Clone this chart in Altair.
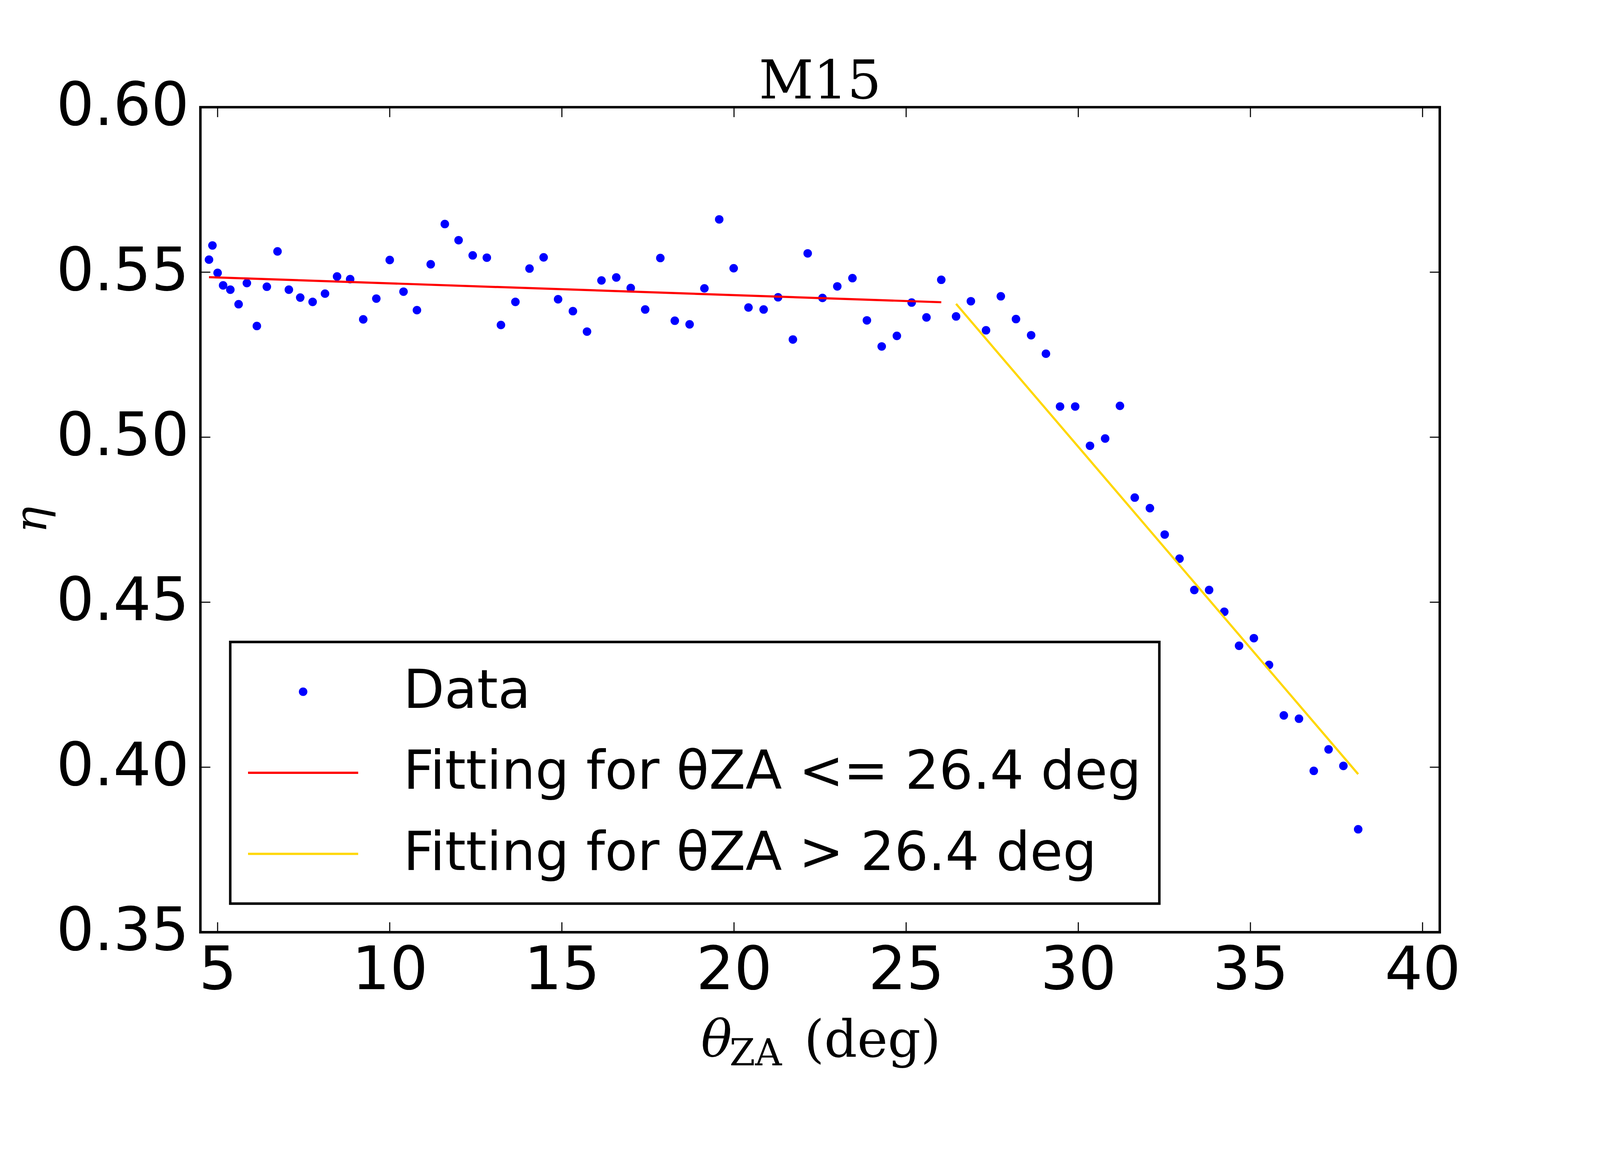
import altair as alt
import pandas as pd

# ---- data ----
theta_za = [4.75, 4.85, 5.00, 5.16, 5.37, 5.61, 5.85, 6.14, 6.43, 6.74,
            7.07, 7.40, 7.76, 8.12, 8.47, 8.85, 9.23, 9.61, 10.00, 10.40,
            10.79, 11.19, 11.60, 12.00, 12.41, 12.82, 13.23, 13.65, 14.06, 14.47,
            14.89, 15.32, 15.73, 16.15, 16.58, 17.00, 17.42, 17.86, 18.28, 18.71,
            19.14, 19.57, 19.99, 20.42, 20.86, 21.28, 21.71, 22.14, 22.57, 23.00,
            23.44, 23.86, 24.29, 24.73, 25.16, 25.59, 26.02, 26.45, 26.88, 27.32,
            27.75, 28.19, 28.63, 29.06, 29.47, 29.91, 30.34, 30.78, 31.21, 31.64,
            32.08, 32.51, 32.94, 33.37, 33.80, 34.24, 34.67, 35.10, 35.54, 35.97,
            36.41, 36.84, 37.27, 37.70, 38.13]
eta = [0.5538, 0.5581, 0.5498, 0.5460, 0.5447, 0.5403, 0.5467, 0.5337, 0.5456, 0.5563,
       0.5447, 0.5423, 0.5410, 0.5435, 0.5487, 0.5479, 0.5357, 0.5420, 0.5537, 0.5441,
       0.5385, 0.5524, 0.5646, 0.5597, 0.5551, 0.5544, 0.5340, 0.5410, 0.5511, 0.5545,
       0.5418, 0.5382, 0.5320, 0.5475, 0.5484, 0.5452, 0.5387, 0.5543, 0.5353, 0.5342,
       0.5451, 0.5660, 0.5512, 0.5393, 0.5387, 0.5424, 0.5296, 0.5557, 0.5422, 0.5457,
       0.5482, 0.5354, 0.5275, 0.5307, 0.5408, 0.5363, 0.5477, 0.5366, 0.5412, 0.5324,
       0.5427, 0.5358, 0.5309, 0.5253, 0.5093, 0.5093, 0.4974, 0.4996, 0.5095, 0.4817,
       0.4785, 0.4705, 0.4632, 0.4537, 0.4537, 0.4471, 0.4368, 0.4391, 0.4310, 0.4157,
       0.4147, 0.3989, 0.4054, 0.4004, 0.3812]

fit_low_x = [4.75, 26.02]
fit_low_y = [0.5485, 0.5409]
fit_high_x = [26.45, 38.13]
fit_high_y = [0.5404, 0.3979]

x_ticks = [5, 10, 15, 20, 25, 30, 35, 40]
y_ticks = [0.35, 0.40, 0.45, 0.50, 0.55, 0.60]
x_domain = [4.5, 40.5]
y_domain = [0.35, 0.60]

chart_title = "M15"
x_title_parts = ["θ", "ZA", "(deg)"]
y_title = "η"
legend_labels = ["Data", "Fitting for θZA <= 26.4 deg", "Fitting for θZA > 26.4 deg"]
series_colors = ["#0000ff", "#ff0000", "#ffd700"]

# ---- layout / style ----
W, H = 3487, 2321
PAD_L, PAD_T, PAD_R, PAD_B = 555, 145, 442, 518   # room around the plot area
TICK_LEN = 28
circle_path = "M-0.0774,0A0.0774,0.0774,0,1,1,0.0774,0A0.0774,0.0774,0,1,1,-0.0774,0Z"
line_path = "M-1,-0.02H1V0.02H-1Z"

points_df = pd.DataFrame({"x": theta_za, "y": eta})
low_df = pd.DataFrame({"x": fit_low_x, "y": fit_low_y})
high_df = pd.DataFrame({"x": fit_high_x, "y": fit_high_y})
xt_df = pd.DataFrame({"x": x_ticks})
yt_df = pd.DataFrame({"y": y_ticks})
leg_df = pd.DataFrame({"series": legend_labels})
one_df = pd.DataFrame({"k": [0]})


def xs():
    return alt.Scale(domain=x_domain, nice=False, zero=False)


def ys():
    return alt.Scale(domain=y_domain, nice=False, zero=False)


def x_axis():
    return alt.Axis(values=x_ticks, format="d", labelFont="DejaVu Sans", labelFontSize=168,
                    labelColor="black", labelPadding=27, labelLimit=2000, ticks=False,
                    tickSize=0, domain=False, grid=False, labelFlush=False, labelOverlap=False,
                    title=None)


def y_axis():
    return alt.Axis(values=y_ticks, format=".2f", labelFont="DejaVu Sans", labelFontSize=168,
                    labelColor="black", labelPadding=32, labelLimit=2000, ticks=False,
                    tickSize=0, domain=False, grid=False, labelFlush=False, labelOverlap=False,
                    title=y_title, titleFont="DejaVu Serif", titleFontSize=125,
                    titleFontStyle="italic", titleFontWeight="normal", titleColor="black",
                    titleAngle=270, titleX=-435, titleY=H / 2,
                    titleBaseline="alphabetic", titleAlign="center")


def X(field="x"):
    return alt.X(f"{field}:Q", scale=xs(), axis=x_axis())


def Y(field="y"):
    return alt.Y(f"{field}:Q", scale=ys(), axis=y_axis())


def text_layer(txt, x, y, size, style="normal", align="left", font="DejaVu Serif"):
    return alt.Chart(one_df).mark_text(
        text=txt, font=font, fontSize=size, fontStyle=style, color="black",
        align=align, baseline="alphabetic").encode(x=alt.value(x), y=alt.value(y))


def build(use_config_sw, encode_mode):
    leg_kw = dict(orient="none", legendX=84, legendY=1504.5, title=None,
                  symbolSize=96100, clipHeight=180, rowPadding=48, padding=50,
                  labelOffset=127, labelFont="DejaVu Sans", labelFontSize=150,
                  labelColor="black", labelLimit=4000, strokeColor="black",
                  fillColor="white", symbolStrokeWidth=0, symbolOpacity=1, symbolOffset=0)
    if encode_mode == "update":
        leg_kw["encode"] = {"legend": {"update": {"strokeWidth": {"value": 7}}}}
    elif encode_mode == "flat":
        leg_kw["encode"] = {"legend": {"strokeWidth": {"value": 7}}}
    leg = alt.Legend(**leg_kw)

    # invisible rule whose extent fixes the drawing surface around the plot area
    frame = alt.Chart(one_df).mark_rule(opacity=0, color="white").encode(
        x=alt.value(-PAD_L), x2=alt.value(W + PAD_R),
        y=alt.value(-PAD_T), y2=alt.value(H + PAD_B))
    points = alt.Chart(points_df).mark_circle(size=576, color="#0000ff", opacity=1).encode(
        x=X(), y=Y())
    low = alt.Chart(low_df).mark_line(color="#ff0000", strokeWidth=6).encode(x=X(), y=Y())
    high = alt.Chart(high_df).mark_line(color="#ffd700", strokeWidth=6).encode(x=X(), y=Y())
    tick_bottom = alt.Chart(xt_df).mark_rule(color="black", strokeWidth=3).encode(
        x=X(), y=alt.value(H), y2=alt.value(H - TICK_LEN))
    tick_top = alt.Chart(xt_df).mark_rule(color="black", strokeWidth=3).encode(
        x=X(), y=alt.value(0), y2=alt.value(TICK_LEN))
    tick_left = alt.Chart(yt_df).mark_rule(color="black", strokeWidth=3).encode(
        y=Y(), x=alt.value(0), x2=alt.value(TICK_LEN))
    tick_right = alt.Chart(yt_df).mark_rule(color="black", strokeWidth=3).encode(
        y=Y(), x=alt.value(W), x2=alt.value(W - TICK_LEN))

    title_layer = text_layer(chart_title, W / 2, -25, 150, align="center")
    xt_theta = text_layer(x_title_parts[0], W / 2 - 335, H + 350, 145, style="italic")
    xt_sub = text_layer(x_title_parts[1], W / 2 - 255, H + 375, 104)
    xt_unit = text_layer(x_title_parts[2], W / 2 - 45, H + 350, 145)

    legend_layer = alt.Chart(leg_df).mark_point(filled=True, size=0, opacity=1).encode(
        x=alt.value(0), y=alt.value(0),
        color=alt.Color("series:N", scale=alt.Scale(domain=legend_labels, range=series_colors),
                        legend=leg),
        shape=alt.Shape("series:N",
                        scale=alt.Scale(domain=legend_labels,
                                        range=[circle_path, line_path, line_path]),
                        legend=leg),
    )

    chart = alt.layer(points, low, high, tick_bottom, tick_top, tick_left, tick_right,
                      title_layer, xt_theta, xt_sub, xt_unit, frame, legend_layer).properties(
        width=W, height=H,
        padding=0,
        background="white",
    ).configure_view(stroke="black", strokeWidth=7, fill="white")
    if use_config_sw:
        chart = chart.configure_legend(strokeWidth=7)
    return chart


chart = None
for cfg, mode in [(True, "update"), (True, "flat"), (False, "update"), (False, "flat"),
                  (True, None), (False, None)]:
    try:
        c = build(cfg, mode)
        c.to_dict()
        chart = c
        break
    except Exception:
        continue

chart.save("out.html", embed_options={"renderer": "svg", "actions": False})
